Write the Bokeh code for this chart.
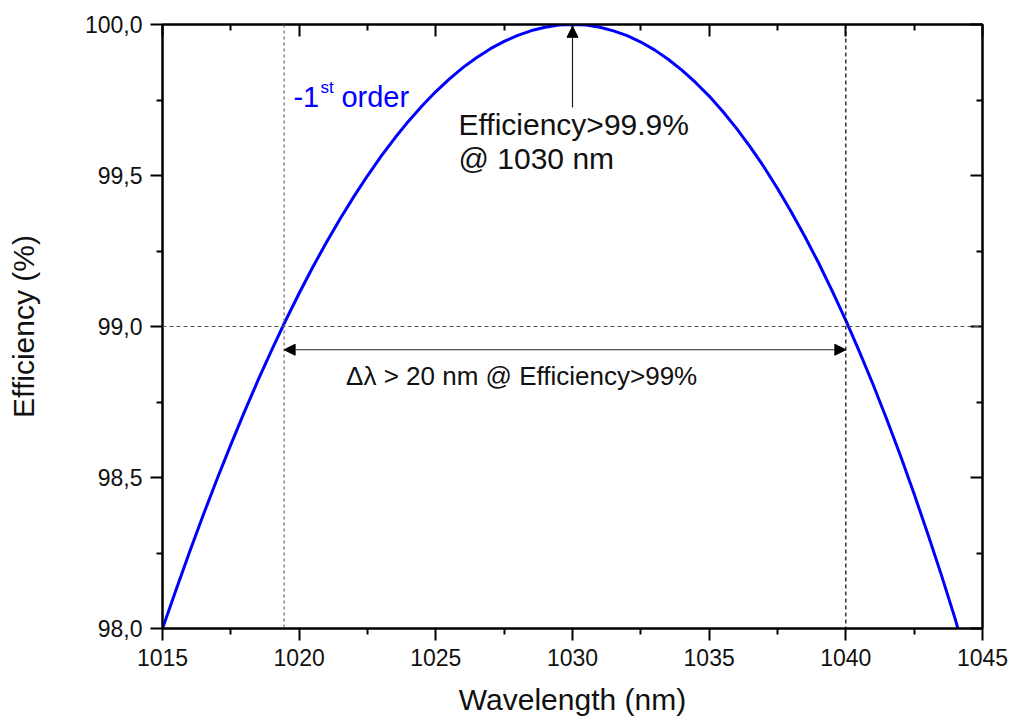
from bokeh.plotting import figure
from bokeh.models import (Range1d, LinearAxis, FixedTicker, Span, Arrow,
                          NormalHead, Label, ColumnDataSource)
from bokeh.embed import file_html
from bokeh.resources import INLINE

# ---- data ----
wavelength = [1015.0, 1015.5, 1016.0, 1016.5, 1017.0, 1017.5, 1018.0, 1018.5, 1019.0, 1019.5,
              1020.0, 1020.5, 1021.0, 1021.5, 1022.0, 1022.5, 1023.0, 1023.5, 1024.0, 1024.5,
              1025.0, 1025.5, 1026.0, 1026.5, 1027.0, 1027.5, 1028.0, 1028.5, 1029.0, 1029.5,
              1030.0, 1030.5, 1031.0, 1031.5, 1032.0, 1032.5, 1033.0, 1033.5, 1034.0, 1034.5,
              1035.0, 1035.5, 1036.0, 1036.5, 1037.0, 1037.5, 1038.0, 1038.5, 1039.0, 1039.5,
              1040.0, 1040.5, 1041.0, 1041.5, 1042.0, 1042.5, 1043.0, 1043.5, 1044.0, 1044.1]
efficiency = [98.000, 98.129, 98.256, 98.378, 98.496, 98.609, 98.718, 98.823, 98.923, 99.019,
              99.110, 99.197, 99.279, 99.357, 99.430, 99.499, 99.564, 99.624, 99.680, 99.731,
              99.778, 99.820, 99.858, 99.891, 99.920, 99.944, 99.964, 99.980, 99.991, 99.998,
              100.000, 99.998, 99.991, 99.979, 99.963, 99.942, 99.916, 99.885, 99.849, 99.808,
              99.763, 99.712, 99.656, 99.595, 99.529, 99.457, 99.380, 99.298, 99.211, 99.118,
              99.020, 98.916, 98.807, 98.692, 98.572, 98.445, 98.313, 98.176, 98.032, 98.000]

x_ticks = [1015, 1020, 1025, 1030, 1035, 1040, 1045]
x_minor = [1017.5, 1022.5, 1027.5, 1032.5, 1037.5, 1042.5]
y_ticks = [98.0, 98.5, 99.0, 99.5, 100.0]
y_tick_labels = ["98,0", "98,5", "99,0", "99,5", "100,0"]
y_minor = [98.25, 98.75, 99.25, 99.75]

band_left = 1019.45      # left edge of >99 % band
band_right = 1040.0      # right edge of >99 % band
threshold = 99.0
peak_wl = 1030.0
peak_eff = 100.0

FONT = "Liberation Sans"

p = figure(width=1010, height=722,
           x_range=Range1d(1015, 1045), y_range=Range1d(98, 100),
           output_backend="svg", toolbar_location=None,
           min_border_left=162, min_border_right=28,
           min_border_top=24, min_border_bottom=94)
p.grid.visible = False
p.outline_line_color = "black"
p.outline_line_width = 2
p.background_fill_color = "white"
p.border_fill_color = "white"

def style_axis(ax, inward, ticks, minor, labels=None, show_labels=True):
    ax.ticker = FixedTicker(ticks=ticks, minor_ticks=minor)
    ax.axis_line_width = 2
    ax.axis_line_color = "black"
    ax.major_tick_line_width = 2
    ax.minor_tick_line_width = 2
    ax.major_tick_line_color = "black"
    ax.minor_tick_line_color = "black"
    if inward:
        ax.major_tick_in = 12
        ax.major_tick_out = 0
        ax.minor_tick_in = 6
        ax.minor_tick_out = 0
    else:
        ax.major_tick_in = 0
        ax.major_tick_out = 12
        ax.minor_tick_in = 0
        ax.minor_tick_out = 6
    ax.major_label_text_font = FONT
    ax.major_label_text_font_size = "23px"
    ax.major_label_text_color = "#111111"
    ax.major_label_standoff = 8
    if labels is not None:
        ax.major_label_overrides = labels
    if not show_labels:
        ax.major_label_overrides = {t: "" for t in ticks}
        ax.major_label_text_font_size = "1px"
        ax.major_label_standoff = 0

xa = p.xaxis[0]
style_axis(xa, False, x_ticks, x_minor)
xa.axis_label = "Wavelength (nm)"
xa.axis_label_text_font = FONT
xa.axis_label_text_font_style = "normal"
xa.axis_label_text_font_size = "30px"
xa.axis_label_text_color = "#111111"
xa.axis_label_standoff = 14

ya = p.yaxis[0]
style_axis(ya, False, y_ticks, y_minor,
           labels={t: l for t, l in zip(y_ticks, y_tick_labels)})
ya.axis_label = "Efficiency (%)"
ya.axis_label_text_font = FONT
ya.axis_label_text_font_style = "normal"
ya.axis_label_text_font_size = "30px"
ya.axis_label_text_color = "#111111"
ya.axis_label_standoff = 42

top = LinearAxis()
style_axis(top, True, x_ticks, x_minor, show_labels=False)
p.add_layout(top, "above")
right = LinearAxis()
style_axis(right, True, y_ticks, y_minor, show_labels=False)
p.add_layout(right, "right")

# reference lines
p.add_layout(Span(location=band_left, dimension="height", line_color="#666666",
                  line_width=1.2, line_dash="3 3"))
p.add_layout(Span(location=band_right, dimension="height", line_color="black",
                  line_width=1.2, line_dash="4 3"))
p.add_layout(Span(location=threshold, dimension="width", line_color="#555555",
                  line_width=1.2, line_dash="4 3"))

# curve
src = ColumnDataSource(dict(x=wavelength, y=efficiency))
p.line("x", "y", source=src, line_color="#0000ff", line_width=3, line_join="round")

# arrows
p.add_layout(Arrow(x_start=band_left, y_start=98.923, x_end=band_right, y_end=98.923,
                   line_color="#222222", line_width=1.2,
                   start=NormalHead(size=11, fill_color="black", line_color="black"),
                   end=NormalHead(size=11, fill_color="black", line_color="black")))
p.add_layout(Arrow(x_start=peak_wl, y_start=99.725, x_end=peak_wl, y_end=peak_eff - 0.006,
                   line_color="#222222", line_width=1.2,
                   end=NormalHead(size=11, fill_color="black", line_color="black")))

# texts
RAISE = 10
def lab(x, y, text, size="28px", color="#111111", x_off=0, y_off=0, align="left"):
    p.add_layout(Label(x=x, y=y, text=text, x_offset=x_off, y_offset=y_off + RAISE,
                       text_font=FONT, text_font_size=size, text_color=color,
                       text_align=align, text_baseline="alphabetic"))

lab(1019.79, 99.728, "-1", size="29px", color="#0000ff")
lab(1019.79, 99.728, "st", size="17px", color="#0000ff", x_off=27, y_off=9)
lab(1019.79, 99.728, "order", size="29px", color="#0000ff", x_off=48)

lab(1025.83, 99.636, "Efficiency>99.9%", size="30px")
lab(1025.83, 99.523, "@ 1030 nm", size="30px")
lab(1028.14, 98.802, "\u0394\u03bb > 20 nm @ Efficiency>99%", size="26px", align="center")

open("out.html", "w").write(file_html(p, INLINE))
